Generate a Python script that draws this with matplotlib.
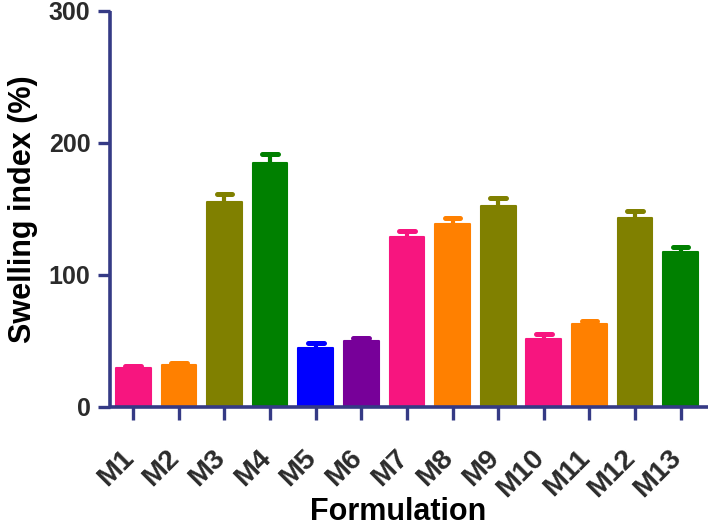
import numpy as np
import matplotlib
matplotlib.use("Agg")
import matplotlib.pyplot as plt
import matplotlib.transforms as mtransforms

# data
formulations = ["M1", "M2", "M3", "M4", "M5", "M6", "M7",
                "M8", "M9", "M10", "M11", "M12", "M13"]
swelling = [29.5, 31.6, 155.6, 185.2, 44.7, 50.0, 128.8,
            138.9, 152.0, 51.8, 63.2, 143.5, 117.2]
sd = [1.5, 2.0, 5.5, 6.5, 3.5, 2.3, 4.5,
      4.0, 6.0, 3.5, 2.0, 5.0, 4.0]
bar_colors = ["#F7157F", "#FF8000", "#808000", "#008000", "#0000FF", "#770099",
              "#F7157F", "#FF8000", "#808000", "#F7157F", "#FF8000", "#808000", "#008000"]

axis_col = "#353A85"
txt_col = "#2B2B2B"
plt.rcParams['font.family'] = ['Liberation Sans', 'DejaVu Sans']
plt.rcParams['font.weight'] = 'bold'

fig = plt.figure(figsize=(7.08, 5.27), dpi=100)
ax = fig.add_axes([110 / 708, 1 - 407 / 527, 598 / 708, 396 / 527])

x = np.arange(len(formulations))
ax.bar(x, swelling, width=0.76, color=bar_colors, edgecolor=bar_colors,
       linewidth=1.5, joinstyle='round', zorder=2)

# upper error bars with rounded caps
cap_half = 0.172
for xi, v, e, c in zip(x, swelling, sd, bar_colors):
    ax.plot([xi, xi], [v, v + e], color=c, lw=3.0, solid_capstyle='butt', zorder=1)
    ax.plot([xi - cap_half, xi + cap_half], [v + e, v + e], color=c, lw=3.6,
            solid_capstyle='round', zorder=1)

ax.set_xlim(-0.51, 12.6)
ax.set_ylim(0, 300)
ax.set_yticks([0, 100, 200, 300])

for s in ['top', 'right']:
    ax.spines[s].set_visible(False)
for s in ['left', 'bottom']:
    ax.spines[s].set_color(axis_col)
    ax.spines[s].set_linewidth(2.6)
    ax.spines[s].set_capstyle('butt')

ax.tick_params(axis='both', direction='out', length=9, width=2.4, color=axis_col,
               labelcolor=txt_col)
ax.tick_params(axis='y', pad=5, labelsize=18)
ax.tick_params(axis='x', pad=18)

ax.set_xticks(x)
ax.set_xticklabels(formulations, rotation=45, ha='right', fontweight='bold', fontsize=20.5)
shift = mtransforms.ScaledTranslation(6 / 100, 0, fig.dpi_scale_trans)
for lab in ax.get_xticklabels():
    lab.set_transform(lab.get_transform() + shift)
for lab in ax.get_yticklabels():
    lab.set_fontweight('bold')

ax.set_ylabel("Swelling index (%)", fontsize=22, fontweight='bold', color='black', labelpad=8)
ax.set_xlabel("Formulation", fontsize=22, fontweight='bold', color='black')
ax.xaxis.set_label_coords(0.481, -0.227)

fig.savefig("out.png", dpi=100)
